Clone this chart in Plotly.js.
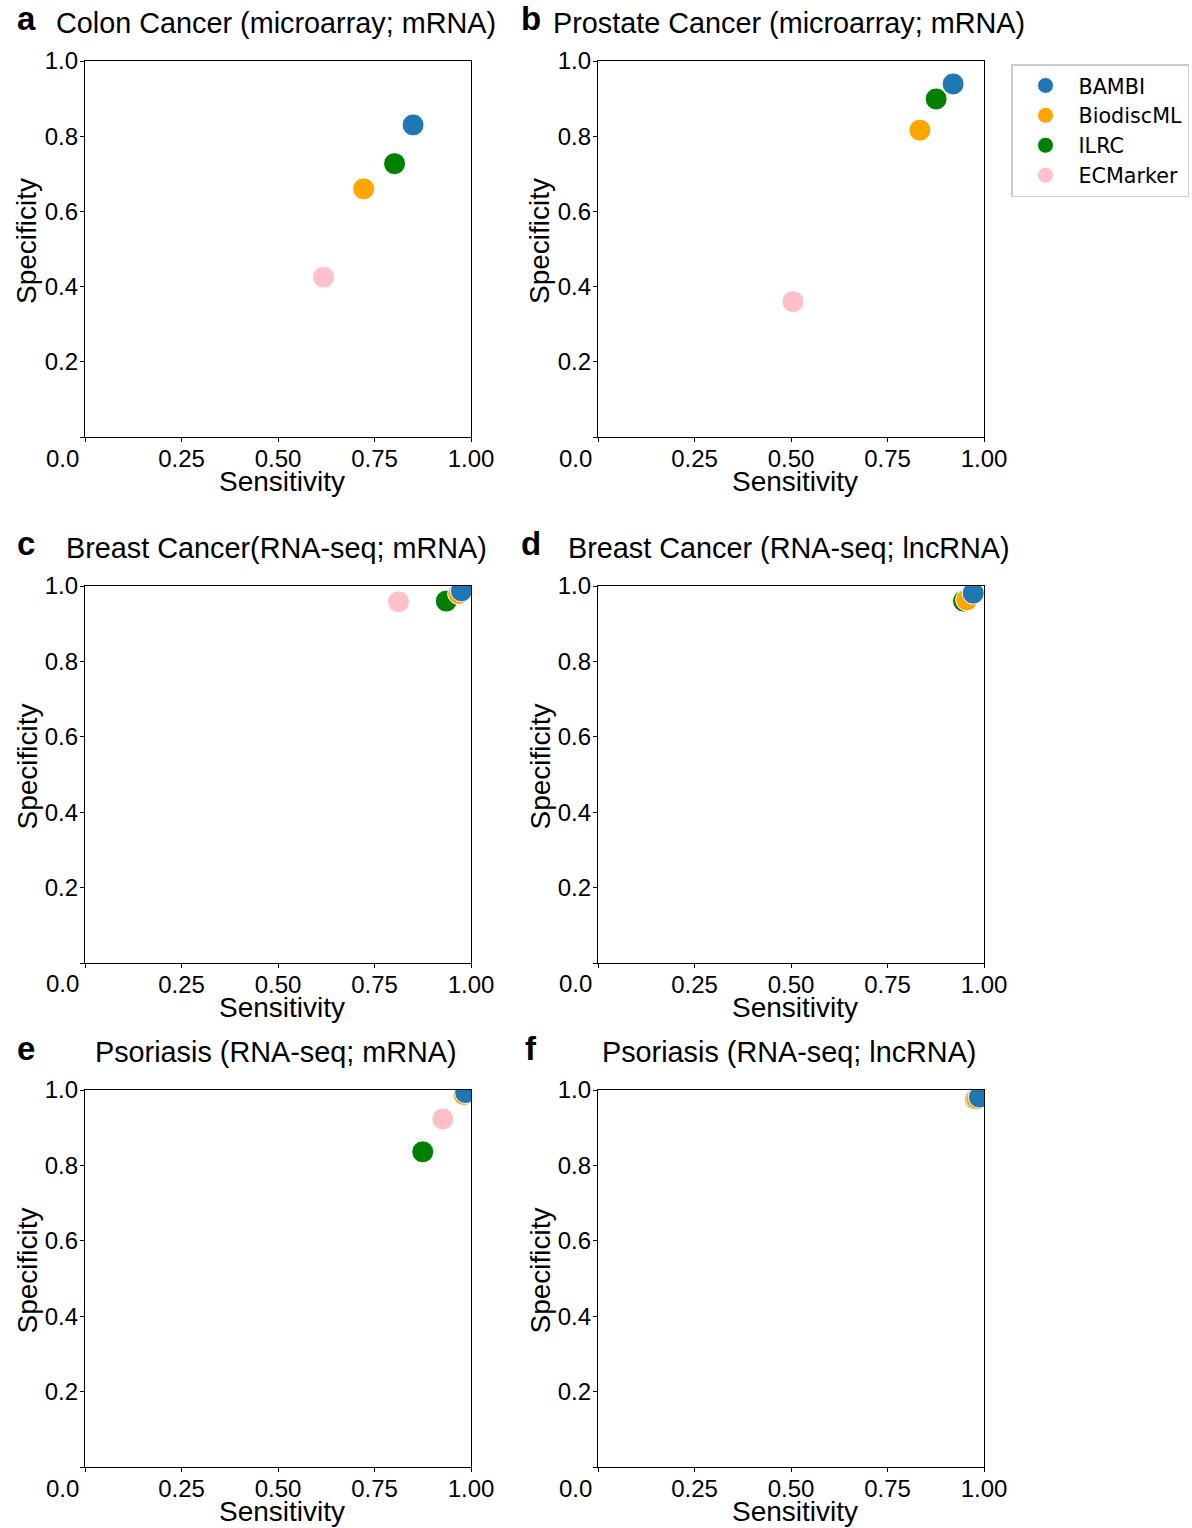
<!DOCTYPE html>
<html>
<head>
<meta charset="utf-8">
<script src="https://cdn.plot.ly/plotly-3.0.1.min.js"></script>
<style>html,body{margin:0;padding:0;background:#fff}#chart{width:1192px;height:1528px}</style>
</head>
<body>
<div id="chart"></div>
<script>
// ---- data ----
const methods = ["BAMBI", "BiodiscML", "ILRC", "ECMarker"];
const methodColors = ["#1f77b4", "#FFA500", "#008000", "#FFC0CB"];
const panelLetters = ["a", "b", "c", "d", "e", "f"];
const panelTitles = [
  "Colon Cancer (microarray; mRNA)",
  "Prostate Cancer (microarray; mRNA)",
  "Breast Cancer(RNA-seq; mRNA)",
  "Breast Cancer (RNA-seq; lncRNA)",
  "Psoriasis (RNA-seq; mRNA)",
  "Psoriasis (RNA-seq; lncRNA)"
];
const xAxisTitle = "Sensitivity";
const yAxisTitle = "Specificity";
// sensitivity / specificity per panel, order = methods
const sensA = [0.850, 0.722, 0.802, 0.618];
const specA = [0.830, 0.660, 0.727, 0.425];
const sensB = [0.920, 0.834, 0.876, 0.505];
const specB = [0.939, 0.816, 0.899, 0.360];
const sensC = [0.975, 0.968, 0.936, 0.812];
const specC = [0.987, 0.980, 0.960, 0.958];
const sensD = [0.972, 0.955, 0.947, 0.947];
const specD = [0.981, 0.963, 0.960, 0.960];
const sensE = [0.986, 0.982, 0.875, 0.927];
const specE = [0.993, 0.988, 0.836, 0.923];
const sensF = [0.988, 0.981, 0.978, 0.978];
const specF = [0.981, 0.977, 0.976, 0.976];
const xTickVals = [0, 0.25, 0.5, 0.75, 1.0];
const xTickText = ["", "0.25", "0.50", "0.75", "1.00"];
const yTickVals = [0, 0.2, 0.4, 0.6, 0.8, 1.0];
const yTickText = ["", "0.2", "0.4", "0.6", "0.8", "1.0"];

const sensAll = [sensA, sensB, sensC, sensD, sensE, sensF];
const specAll = [specA, specB, specC, specD, specE, specF];

// ---- layout geometry (px) ----
const W = 1192, H = 1528;
const colX = [[85, 471], [598, 984]];
const rowY = [[61, 437], [586, 963], [1090, 1467]];
const FONT = "Liberation Sans, Arial, Helvetica, sans-serif";

const traces = [];
const layout = {
  width: W, height: H,
  margin: {l: 0, r: 0, t: 0, b: 0},
  paper_bgcolor: "#fff", plot_bgcolor: "#fff",
  showlegend: true,
  font: {family: FONT, size: 24, color: "#000"},
  legend: {
    x: 1011 / W, y: 1 - 64 / H, xanchor: "left", yanchor: "top",
    bordercolor: "#cccccc", borderwidth: 1.5, bgcolor: "#fff",
    font: {family: "DejaVu Sans, sans-serif", size: 20.7, color: "#000"},
    traceorder: "grouped", tracegroupgap: 0, itemsizing: "trace", itemwidth: 56
  },
  annotations: []
};

for (let p = 0; p < 6; p++) {
  const col = p % 2, row = Math.floor(p / 2);
  const ax = p === 0 ? "" : String(p + 1);
  const [x0, x1] = colX[col];
  const [yt, yb] = rowY[row];
  const xc = (x0 + x1) / 2, yc = (yt + yb) / 2;
  layout["xaxis" + ax] = {
    domain: [x0 / W, x1 / W], anchor: "y" + ax,
    range: [0, 1], tickvals: xTickVals, ticktext: xTickText,
    showgrid: false, zeroline: false, showline: true, mirror: true,
    linecolor: "#000", linewidth: 1.2, ticks: "outside", ticklen: 4, tickcolor: "#000",
    tickfont: {size: 24, family: FONT}, ticklabelstandoff: -4,
    automargin: false
  };
  layout["yaxis" + ax] = {
    domain: [1 - yb / H, 1 - yt / H], anchor: "x" + ax,
    range: [0, 1], tickvals: yTickVals, ticktext: yTickText,
    showgrid: false, zeroline: false, showline: true, mirror: true,
    linecolor: "#000", linewidth: 1.2, ticks: "outside", ticklen: 4, tickcolor: "#000",
    tickfont: {size: 24, family: FONT}, ticklabelstandoff: -3,
    automargin: false
  };
  // corner "0.0" label
  layout.annotations.push({
    xref: "paper", yref: "paper", x: (x0 - 4) / W, y: 1 - (yb + 21) / H,
    xanchor: "right", yanchor: "middle", showarrow: false,
    text: "0.0", font: {size: 24, family: FONT, color: "#000"}
  });
  // x axis title
  layout.annotations.push({
    xref: "paper", yref: "paper", x: (xc + 4) / W, y: 1 - (yb + 44) / H,
    xanchor: "center", yanchor: "middle", showarrow: false,
    text: xAxisTitle, font: {size: 28, family: FONT, color: "#000"}
  });
  // y axis title
  layout.annotations.push({
    xref: "paper", yref: "paper", x: (col === 0 ? 27 : 540) / W, y: 1 - (yc - 8) / H,
    xanchor: "center", yanchor: "middle", showarrow: false, textangle: -90,
    text: yAxisTitle, font: {size: 28, family: FONT, color: "#000"}
  });
  // panel title
  layout.annotations.push({
    xref: "paper", yref: "paper", x: (xc - 2) / W, y: 1 - (yt - 38) / H,
    xanchor: "center", yanchor: "middle", showarrow: false,
    text: panelTitles[p], font: {size: 28.8, family: FONT, color: "#000"}
  });
  // panel letter
  layout.annotations.push({
    xref: "paper", yref: "paper", x: (col === 0 ? 26 : 531) / W, y: 1 - (yt - 42) / H,
    xanchor: "center", yanchor: "middle", showarrow: false,
    text: "<b>" + panelLetters[p] + "</b>", font: {size: 33, family: FONT, color: "#000"}
  });
  // traces (drawn last-to-first so BAMBI is on top)
  for (let j = methods.length - 1; j >= 0; j--) {
    traces.push({
      type: "scatter", mode: "markers",
      x: [sensAll[p][j]], y: [specAll[p][j]],
      xaxis: "x" + ax, yaxis: "y" + ax,
      name: methods[j], legendgroup: methods[j], legendrank: j + 1,
      showlegend: p === 0,
      marker: {color: methodColors[j], size: 22, line: {color: "#fff", width: 1}},
      cliponaxis: true, hoverinfo: "x+y+name"
    });
  }
}

Plotly.newPlot("chart", traces, layout, {staticPlot: true});
</script>
</body>
</html>
